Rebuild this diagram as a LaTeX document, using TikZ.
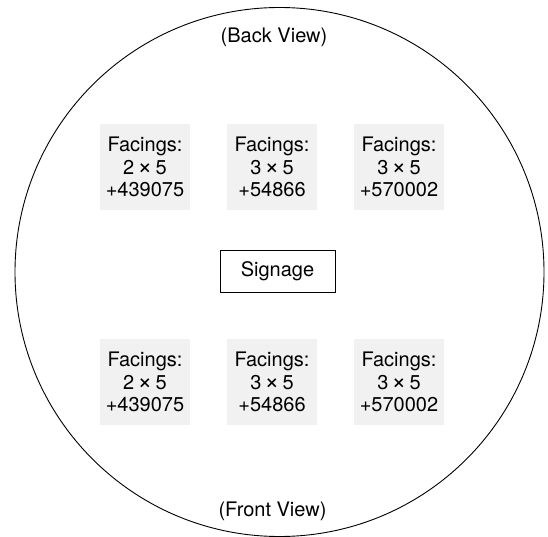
\documentclass[tikz,border=0pt]{standalone}
\usepackage{fontspec}
\setmainfont{TeX Gyre Heros}
\definecolor{facefill}{HTML}{F1F1F2}
\newcommand{\bytimes}{\,\raisebox{-0.4pt}{\fontsize{25}{22.5}\selectfont ×}\,}
\begin{document}
\begin{tikzpicture}[
      x=1pt, y=-1pt,
      every node/.style={font=\fontsize{20}{22.5}\selectfont, inner sep=0pt},
      facing/.style={fill=facefill, align=center, minimum width=90pt, minimum height=86pt},
      signbox/.style={draw, line width=0.9pt, minimum width=115pt, minimum height=42pt},
      viewlabel/.style={anchor=center}
    ]
      \useasboundingbox (0,0) rectangle (548,537);
      % shelf floor
      \node[draw, circle, line width=0.9pt, minimum size=529pt] (floor) at (279.5,272) {};
      \node[viewlabel] (back) at (274,37) {(Back View)};
      \node[viewlabel] (front) at (272.5,511) {(Front View)};
      % back row
      \node[facing] (b1) at (145,167) {Facings:\\2\bytimes5\\+439075};
      \node[facing] (b2) at (272,167) {Facings:\\3\bytimes5\\+54866};
      \node[facing] (b3) at (399,167) {Facings:\\3\bytimes5\\+570002};
      % centre
      \node[signbox] (sign) at (277.5,271) {Signage};
      % front row
      \node[facing] (f1) at (145,382) {Facings:\\2\bytimes5\\+439075};
      \node[facing] (f2) at (272,382) {Facings:\\3\bytimes5\\+54866};
      \node[facing] (f3) at (399,382) {Facings:\\3\bytimes5\\+570002};
    \end{tikzpicture}
\end{document}
